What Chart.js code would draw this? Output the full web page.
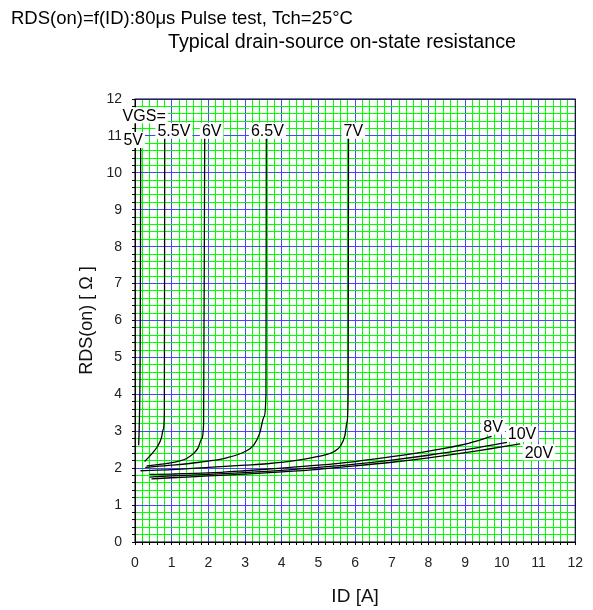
<!DOCTYPE html>
<html>
<head>
<meta charset="utf-8">
<script src="https://cdn.jsdelivr.net/npm/chart.js@4/dist/chart.umd.min.js"></script>
<style>
    html, body { margin: 0; padding: 0; background: #fff; }
    #wrap { width: 593px; height: 610px; }
</style>
</head>
<body>
<div id="wrap"><canvas id="chart" width="593" height="610"></canvas></div>
<script>
// ID [A] and RDS(on) [ohm], one pair of arrays per VGS curve
const id5V = [0.10, 0.12, 0.14, 0.15, 0.155];
const rds5V = [2.62, 3.3, 5.0, 8.0, 11.0];

const id5V5 = [0.26, 0.45, 0.62, 0.72, 0.77, 0.80, 0.81];
const rds5V5 = [2.18, 2.38, 2.6, 2.82, 3.05, 3.5, 11.0];

const id6V = [0.32, 0.88, 1.2, 1.42, 1.6, 1.72, 1.82, 1.87, 1.9];
const rds6V = [2.06, 2.13, 2.19, 2.27, 2.4, 2.55, 2.8, 3.2, 11.0];

const id6V5 = [0.28, 1.0, 1.76, 2.5, 3.0, 3.24, 3.4, 3.52, 3.57, 3.58];
const rds6V5 = [2.02, 2.08, 2.16, 2.28, 2.45, 2.63, 2.95, 3.4, 4.0, 11.0];

const id7V = [0.15, 1.0, 2.0, 3.0, 3.6, 4.45, 5.0, 5.43, 5.6, 5.72, 5.78, 5.81, 5.82];
const rds7V = [1.93, 1.96, 2.02, 2.08, 2.12, 2.22, 2.32, 2.45, 2.6, 2.88, 3.25, 4.0, 11.0];

const id8V = [0.40, 1, 2, 3, 4, 5, 6, 7, 8, 9, 9.72];
const rds8V = [1.83, 1.84, 1.87, 1.93, 2.0, 2.08, 2.18, 2.31, 2.46, 2.65, 2.86];

const id10V = [0.40, 1, 2, 3, 4, 5, 6, 7, 8, 9, 10.14];
const rds10V = [1.76, 1.79, 1.83, 1.88, 1.94, 2.02, 2.11, 2.22, 2.35, 2.5, 2.70];

const id20V = [0.45, 1, 2, 3, 4, 5, 6, 7, 8, 9, 10.5];
const rds20V = [1.71, 1.74, 1.79, 1.84, 1.9, 1.97, 2.06, 2.16, 2.28, 2.42, 2.66];

const seriesNames = ['5V', '5.5V', '6V', '6.5V', '7V', '8V', '10V', '20V'];
const seriesX = [id5V, id5V5, id6V, id6V5, id7V, id8V, id10V, id20V];
const seriesY = [rds5V, rds5V5, rds6V, rds6V5, rds7V, rds8V, rds10V, rds20V];

// where each curve label sits, in data units (ID, RDS)
const labelText = ['VGS=', '5V', '5.5V', '6V', '6.5V', '7V', '8V', '10V', '20V'];
const labelAt = [[0.25, 11.56], [-0.05, 10.89], [1.06, 11.14], [2.09, 11.14], [3.61, 11.14],
    [5.95, 11.14], [9.76, 3.13], [10.55, 2.93], [11.01, 2.43]];

const FONT = "'Liberation Sans', Arial, sans-serif";

const isMajor = v => Math.abs(v - Math.round(v)) < 1e-6;

// black frame round the plot, white-boxed curve labels and the two heading lines
const frameAndLabels = {
    id: 'frameAndLabels',
    afterDraw(chart) {
        const { ctx, chartArea: a, scales: { x, y } } = chart;
        ctx.save();
        ctx.strokeStyle = '#000';
        ctx.lineWidth = 1;
        ctx.strokeRect(a.left, a.top, a.right - a.left, a.bottom - a.top);

        ctx.font = '16px ' + FONT;
        ctx.textAlign = 'center';
        ctx.textBaseline = 'middle';
        labelText.forEach((t, i) => {
            const px = x.getPixelForValue(labelAt[i][0]);
            const py = y.getPixelForValue(labelAt[i][1]);
            const w = ctx.measureText(t).width + 4;
            ctx.fillStyle = '#fff';
            ctx.fillRect(px - w / 2, py - 8, w, 16);
            ctx.fillStyle = '#000';
            ctx.fillText(t, px, py + 1);
        });

        ctx.fillStyle = '#000';
        ctx.textAlign = 'left';
        ctx.font = '18.5px ' + FONT;
        ctx.fillText('RDS(on)=f(ID):80μs Pulse test, Tch=25°C', 11, 19);
        ctx.textAlign = 'center';
        ctx.font = '19.7px ' + FONT;
        ctx.fillText('Typical drain-source on-state resistance', 342, 43);
        ctx.restore();
    }
};

new Chart(document.getElementById('chart'), {
    type: 'line',
    data: {
        datasets: seriesNames.map((name, i) => ({
            label: name,
            data: seriesX[i].map((v, k) => ({ x: v, y: seriesY[i][k] })),
            borderColor: '#000',
            borderWidth: 1.3,
            pointRadius: 0,
            cubicInterpolationMode: 'monotone',
            fill: false,
        })),
    },
    options: {
        responsive: false,
        animation: false,
        layout: {
            padding: { top: 99, right: 12, left: 0, bottom: 0 },
        },
        plugins: {
            legend: { display: false },
            tooltip: { enabled: false },
        },
        scales: {
            x: {
                type: 'linear',
                min: 0,
                max: 12,
                afterFit: s => { s.height = 68; },
                border: { color: '#000', width: 1 },
                grid: {
                    color: c => isMajor(c.tick.value) ? '#4646ff' : '#00ff00',
                    lineWidth: 1,
                    tickLength: 3,
                    tickColor: '#000',
                },
                ticks: {
                    stepSize: 0.2,
                    autoSkip: false,
                    maxRotation: 0,
                    minRotation: 0,
                    padding: 10,
                    color: '#222',
                    font: { family: FONT, size: 14 },
                    callback: v => isMajor(v) ? String(Math.round(v)) : '',
                },
                title: {
                    display: true,
                    text: 'ID [A]',
                    color: '#111',
                    font: { family: FONT, size: 19 },
                    padding: { top: 0, bottom: 2 },
                },
            },
            y: {
                type: 'linear',
                min: 0,
                max: 12,
                afterFit: s => { s.width = 135; },
                border: { color: '#000', width: 1 },
                grid: {
                    color: c => isMajor(c.tick.value) ? '#4646ff' : '#00ff00',
                    lineWidth: 1,
                    tickLength: 3,
                    tickColor: '#000',
                },
                ticks: {
                    stepSize: 0.2,
                    autoSkip: false,
                    padding: 10,
                    color: '#222',
                    font: { family: FONT, size: 14 },
                    callback: v => isMajor(v) ? String(Math.round(v)) : '',
                },
                title: {
                    display: true,
                    text: 'RDS(on) [ Ω ]',
                    color: '#111',
                    font: { family: FONT, size: 18 },
                    padding: { top: 76, bottom: 0 },
                },
            },
        },
    },
    plugins: [frameAndLabels],
});
</script>
</body>
</html>
